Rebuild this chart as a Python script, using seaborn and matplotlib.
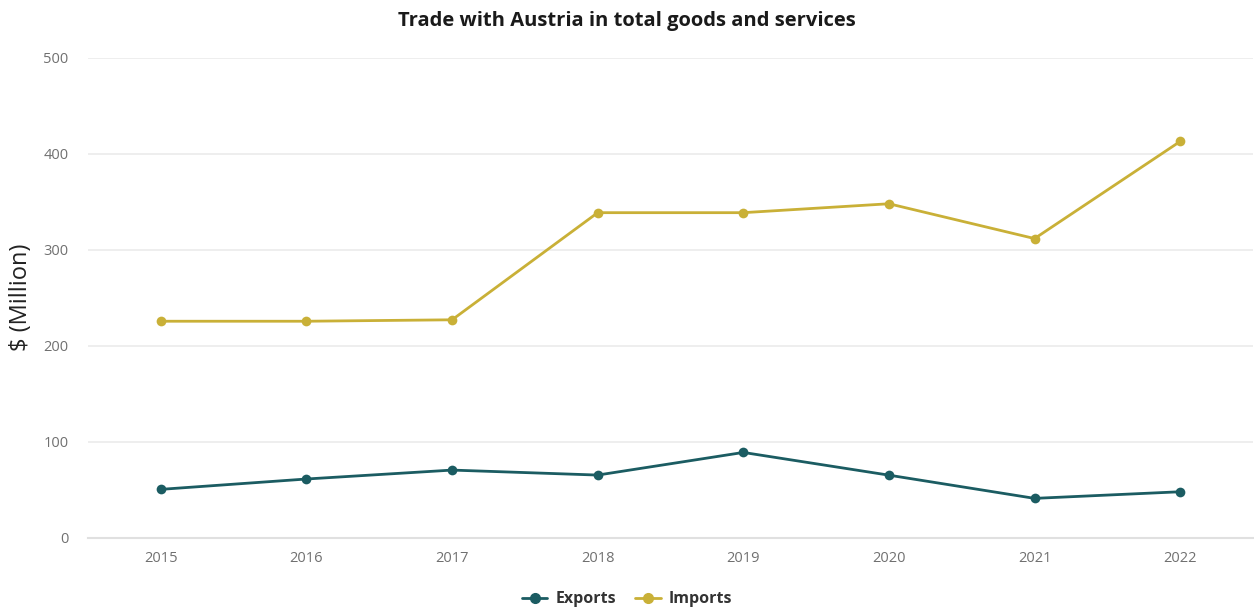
import matplotlib
matplotlib.use("Agg")
import matplotlib.pyplot as plt
from matplotlib.lines import Line2D
import seaborn as sns
import pandas as pd

years = ["2015", "2016", "2017", "2018", "2019", "2020", "2021", "2022"]
exports = [50.2, 61.0, 70.3, 65.1, 88.7, 65.0, 40.8, 47.7]
imports = [225.5, 225.5, 227.0, 338.7, 338.7, 348.0, 311.7, 413.0]
series_names = ["Exports", "Imports"]
y_ticks = [0, 100, 200, 300, 400, 500]

export_color = "#1b5c62"
import_color = "#c9b037"

df = pd.DataFrame({
    "Year": years * 2,
    "Value": exports + imports,
    "Series": [series_names[0]] * len(years) + [series_names[1]] * len(years),
})

sns.set_theme(style="white")
plt.rcParams["font.family"] = ["Open Sans", "DejaVu Sans"]

fig = plt.figure(figsize=(12.54, 6.09), dpi=100)
ax = fig.add_axes([0.0702, 0.1174, 0.929, 0.7874])

sns.lineplot(
    data=df, x="Year", y="Value", hue="Series",
    palette={series_names[0]: export_color, series_names[1]: import_color},
    marker="o", markersize=7, markeredgewidth=0, linewidth=2,
    sort=False, legend=False, ax=ax,
)

ax.set_xlim(-0.5, len(years) - 0.5)
ax.set_ylim(0, 500)
ax.set_yticks(y_ticks)
ax.set_yticklabels([str(t) for t in y_ticks])
ax.yaxis.grid(True, color="#ebebeb", linewidth=1.2)
ax.set_axisbelow(True)
for side in ["top", "right", "left"]:
    ax.spines[side].set_visible(False)
ax.spines["bottom"].set_color("#e0e0e0")
ax.spines["bottom"].set_linewidth(1.5)

ax.tick_params(axis="both", length=0, labelsize=10.5, labelcolor="#707070")
ax.tick_params(axis="y", pad=14)
ax.tick_params(axis="x", pad=10)
ax.set_xlabel("")
ax.set_ylabel("$ (Million)", fontsize=17, color="#222222")
ax.yaxis.set_label_coords(-0.047, 0.5)

fig.suptitle("Trade with Austria in total goods and services",
             x=0.5, y=0.982, fontsize=14.5, fontweight="bold", color="#1a1a1a")

handles = [
    Line2D([0], [0], color=export_color, marker="o", markersize=7, linewidth=2),
    Line2D([0], [0], color=import_color, marker="o", markersize=7, linewidth=2),
]
leg = fig.legend(handles, series_names, loc="center", bbox_to_anchor=(0.5, 0.016),
                 ncol=2, frameon=False, handlelength=1.6, handletextpad=0.5,
                 columnspacing=1.2, prop={"size": 11.5, "weight": "bold"})
for txt in leg.get_texts():
    txt.set_color("#333333")

fig.savefig("out.png", dpi=100, facecolor="white")
